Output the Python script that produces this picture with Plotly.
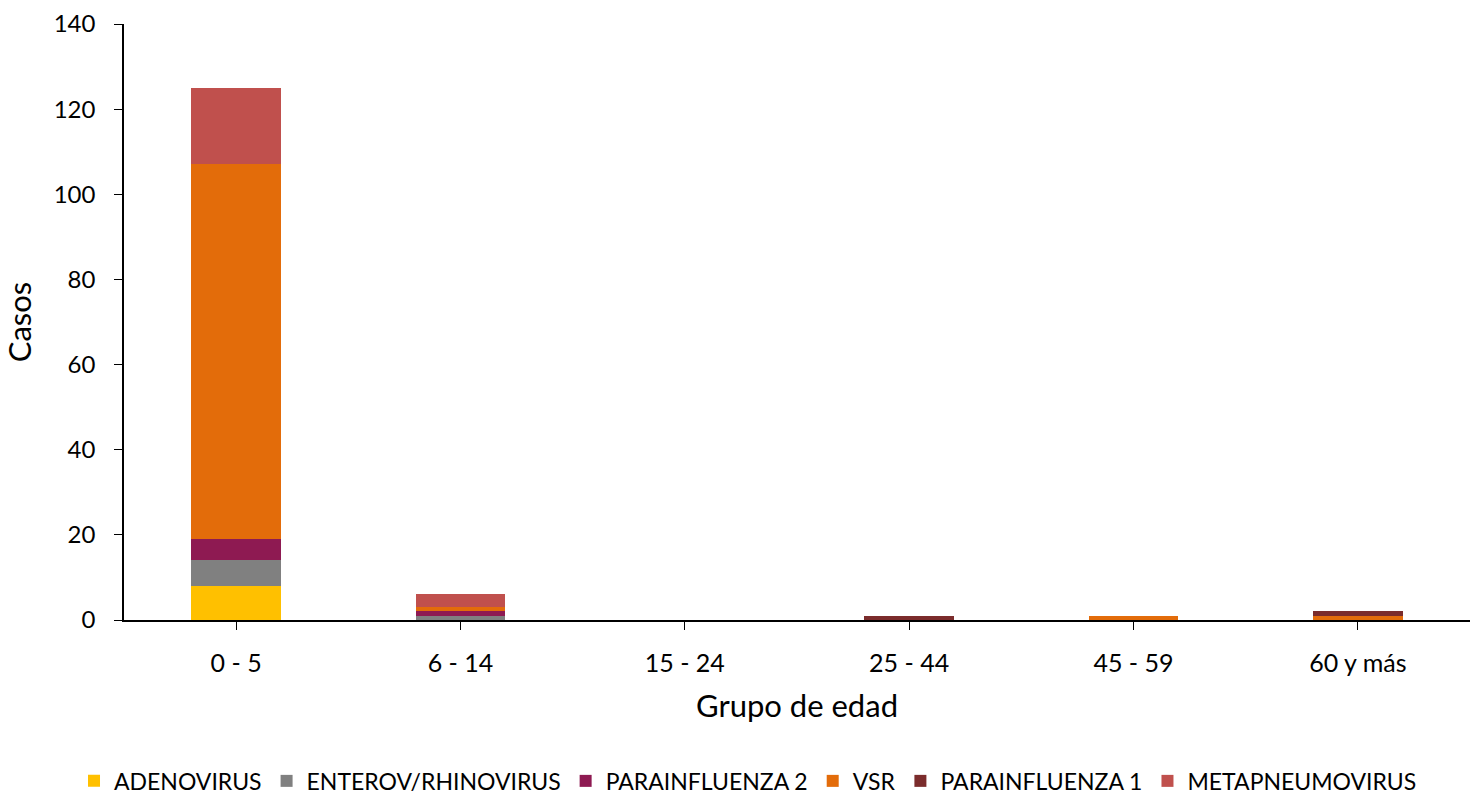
import plotly.graph_objects as go

grupos = ["0 - 5", "6 - 14", "15 - 24", "25 - 44", "45 - 59", "60 y más"]

adenovirus = [8, 0, 0, 0, 0, 0]
enterov_rhinovirus = [6, 1, 0, 0, 0, 0]
parainfluenza_2 = [5, 1, 0, 0, 0, 0]
vsr = [88, 1, 0, 0, 1, 1]
parainfluenza_1 = [0, 0, 0, 1, 0, 1]
metapneumovirus = [18, 3, 0, 0, 0, 0]

series = [
    ("ADENOVIRUS", adenovirus, "#FFC000"),
    ("ENTEROV/RHINOVIRUS", enterov_rhinovirus, "#808080"),
    ("PARAINFLUENZA 2", parainfluenza_2, "#8E1A52"),
    ("VSR", vsr, "#E36C0A"),
    ("PARAINFLUENZA 1", parainfluenza_1, "#7B2C2C"),
    ("METAPNEUMOVIRUS", metapneumovirus, "#C0504D"),
]

fig = go.Figure()
for name, vals, color in series:
    fig.add_trace(go.Bar(
        x=grupos,
        y=vals,
        name=name,
        marker=dict(color=color, line=dict(width=0)),
    ))

fig.update_layout(
    barmode="stack",
    bargap=0.6,
    width=1472,
    height=795,
    margin=dict(l=124, r=2, t=24, b=175, autoexpand=False),
    plot_bgcolor="white",
    paper_bgcolor="white",
    font=dict(family="Lato, Open Sans, sans-serif", size=22, color="black"),
    xaxis=dict(
        title=dict(text="Grupo de edad", font=dict(size=31), standoff=20),
        showline=True, linecolor="black", linewidth=1.5,
        ticks="outside", ticklen=8, tickcolor="black",
        tickfont=dict(size=25), ticklabelstandoff=12,
    ),
    yaxis=dict(
        title=dict(text="Casos", font=dict(size=31), standoff=20),
        range=[0, 140], dtick=20,
        showline=True, linecolor="black", linewidth=1.5,
        ticks="outside", ticklen=8, tickcolor="black",
        showgrid=False, zeroline=False,
        tickfont=dict(size=24), ticklabelstandoff=14,
    ),
    legend=dict(
        orientation="h",
        x=0.4636, xanchor="center",
        y=-0.27, yanchor="middle",
        font=dict(size=23),
        itemwidth=30,
        traceorder="normal",
    ),
)

# drop the default page margin so the figure sits at the window's top-left corner
fig.write_html("out.html", config={"displayModeBar": False},
               post_script="document.body.style.margin='0';")
